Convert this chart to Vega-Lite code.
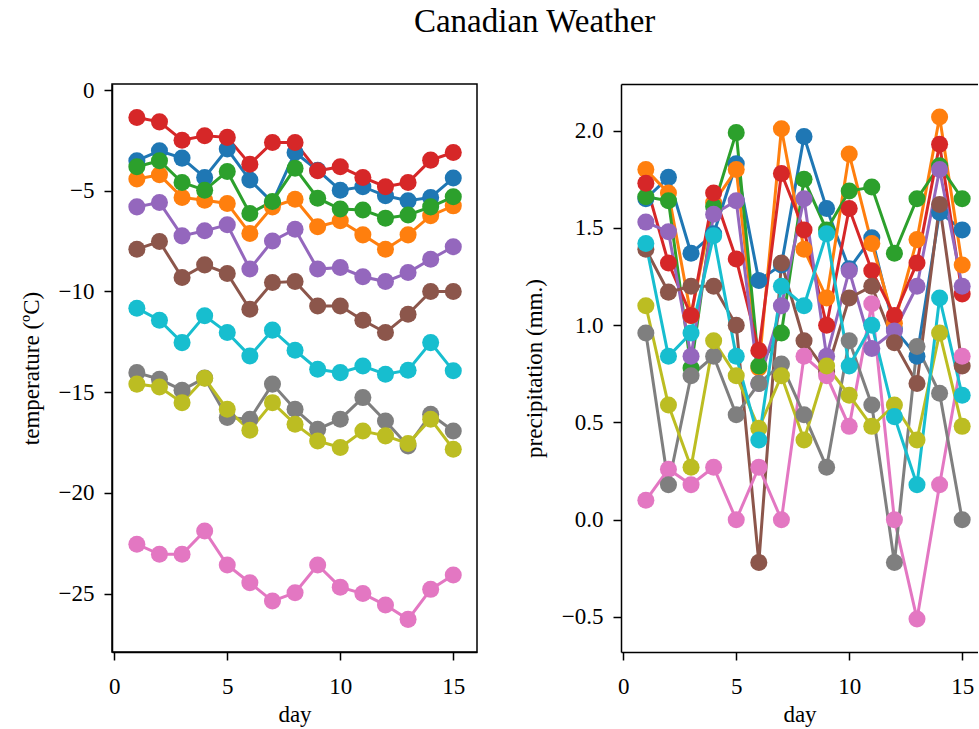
{
"$schema": "https://vega.github.io/schema/vega-lite/v6.json",
"padding": {"left": 19, "top": 6, "right": 0, "bottom": 0},
"title": {"text": "Canadian Weather", "font": "Liberation Serif", "fontSize": 33, "fontWeight": "normal", "color": "black", "anchor": "middle", "offset": 39, "dx": 36},
"config": {
 "font": "Liberation Serif",
 "view": {"stroke": "black", "strokeWidth": 1.5},
 "axis": {"grid": false, "domainColor": "black", "domainWidth": 1.5, "tickColor": "black", "tickWidth": 1.5, "tickSize": 8, "labelFont": "Liberation Serif", "labelFontSize": 23, "labelColor": "black", "titleFont": "Liberation Serif", "titleFontSize": 23, "titleFontWeight": "normal", "titleColor": "black", "labelPadding": 10, "titlePadding": 15}
},
"datasets": {"w": [
{"city":"St. Johns","day":1,"temp":-3.51,"precip":1.65},{"city":"St. Johns","day":2,"temp":-3.02,"precip":1.76},{"city":"St. Johns","day":3,"temp":-3.38,"precip":1.37},{"city":"St. Johns","day":4,"temp":-4.34,"precip":1.47},{"city":"St. Johns","day":5,"temp":-2.93,"precip":1.83},{"city":"St. Johns","day":6,"temp":-4.47,"precip":1.23},{"city":"St. Johns","day":7,"temp":-5.58,"precip":1.31},{"city":"St. Johns","day":8,"temp":-3.10,"precip":1.97},{"city":"St. Johns","day":9,"temp":-3.98,"precip":1.60},{"city":"St. Johns","day":10,"temp":-4.97,"precip":1.29},{"city":"St. Johns","day":11,"temp":-4.80,"precip":1.45},{"city":"St. Johns","day":12,"temp":-5.25,"precip":0.98},{"city":"St. Johns","day":13,"temp":-5.50,"precip":0.84},{"city":"St. Johns","day":14,"temp":-5.33,"precip":1.58},{"city":"St. Johns","day":15,"temp":-4.37,"precip":1.49},
{"city":"Halifax","day":1,"temp":-4.42,"precip":1.80},{"city":"Halifax","day":2,"temp":-4.21,"precip":1.68},{"city":"Halifax","day":3,"temp":-5.33,"precip":1.05},{"city":"Halifax","day":4,"temp":-5.47,"precip":1.63},{"city":"Halifax","day":5,"temp":-5.63,"precip":1.80},{"city":"Halifax","day":6,"temp":-7.12,"precip":0.78},{"city":"Halifax","day":7,"temp":-5.80,"precip":2.01},{"city":"Halifax","day":8,"temp":-5.42,"precip":1.39},{"city":"Halifax","day":9,"temp":-6.79,"precip":1.14},{"city":"Halifax","day":10,"temp":-6.49,"precip":1.88},{"city":"Halifax","day":11,"temp":-7.19,"precip":1.42},{"city":"Halifax","day":12,"temp":-7.90,"precip":1.01},{"city":"Halifax","day":13,"temp":-7.19,"precip":1.44},{"city":"Halifax","day":14,"temp":-6.24,"precip":2.07},{"city":"Halifax","day":15,"temp":-5.75,"precip":1.31},
{"city":"Sydney","day":1,"temp":-3.81,"precip":1.66},{"city":"Sydney","day":2,"temp":-3.51,"precip":1.64},{"city":"Sydney","day":3,"temp":-4.59,"precip":0.78},{"city":"Sydney","day":4,"temp":-4.97,"precip":1.61},{"city":"Sydney","day":5,"temp":-4.04,"precip":1.99},{"city":"Sydney","day":6,"temp":-6.13,"precip":0.79},{"city":"Sydney","day":7,"temp":-5.53,"precip":0.96},{"city":"Sydney","day":8,"temp":-3.88,"precip":1.75},{"city":"Sydney","day":9,"temp":-5.37,"precip":1.49},{"city":"Sydney","day":10,"temp":-5.91,"precip":1.69},{"city":"Sydney","day":11,"temp":-5.96,"precip":1.71},{"city":"Sydney","day":12,"temp":-6.36,"precip":1.37},{"city":"Sydney","day":13,"temp":-6.20,"precip":1.65},{"city":"Sydney","day":14,"temp":-5.80,"precip":1.82},{"city":"Sydney","day":15,"temp":-5.30,"precip":1.65},
{"city":"Yarmouth","day":1,"temp":-1.36,"precip":1.73},{"city":"Yarmouth","day":2,"temp":-1.58,"precip":1.32},{"city":"Yarmouth","day":3,"temp":-2.49,"precip":1.05},{"city":"Yarmouth","day":4,"temp":-2.27,"precip":1.68},{"city":"Yarmouth","day":5,"temp":-2.35,"precip":1.34},{"city":"Yarmouth","day":6,"temp":-3.68,"precip":0.87},{"city":"Yarmouth","day":7,"temp":-2.60,"precip":1.78},{"city":"Yarmouth","day":8,"temp":-2.60,"precip":1.49},{"city":"Yarmouth","day":9,"temp":-4.01,"precip":1.00},{"city":"Yarmouth","day":10,"temp":-3.81,"precip":1.60},{"city":"Yarmouth","day":11,"temp":-4.34,"precip":1.28},{"city":"Yarmouth","day":12,"temp":-4.80,"precip":1.05},{"city":"Yarmouth","day":13,"temp":-4.59,"precip":1.32},{"city":"Yarmouth","day":14,"temp":-3.48,"precip":1.93},{"city":"Yarmouth","day":15,"temp":-3.10,"precip":1.16},
{"city":"Charlottvl","day":1,"temp":-5.80,"precip":1.53},{"city":"Charlottvl","day":2,"temp":-5.58,"precip":1.48},{"city":"Charlottvl","day":3,"temp":-7.24,"precip":0.84},{"city":"Charlottvl","day":4,"temp":-6.99,"precip":1.57},{"city":"Charlottvl","day":5,"temp":-6.69,"precip":1.64},{"city":"Charlottvl","day":6,"temp":-8.89,"precip":0.70},{"city":"Charlottvl","day":7,"temp":-7.49,"precip":1.10},{"city":"Charlottvl","day":8,"temp":-6.91,"precip":1.65},{"city":"Charlottvl","day":9,"temp":-8.89,"precip":0.84},{"city":"Charlottvl","day":10,"temp":-8.81,"precip":1.28},{"city":"Charlottvl","day":11,"temp":-9.27,"precip":0.88},{"city":"Charlottvl","day":12,"temp":-9.51,"precip":0.97},{"city":"Charlottvl","day":13,"temp":-9.06,"precip":1.20},{"city":"Charlottvl","day":14,"temp":-8.40,"precip":1.80},{"city":"Charlottvl","day":15,"temp":-7.78,"precip":1.20},
{"city":"Fredericton","day":1,"temp":-7.90,"precip":1.39},{"city":"Fredericton","day":2,"temp":-7.52,"precip":1.17},{"city":"Fredericton","day":3,"temp":-9.31,"precip":1.20},{"city":"Fredericton","day":4,"temp":-8.68,"precip":1.20},{"city":"Fredericton","day":5,"temp":-9.11,"precip":1.00},{"city":"Fredericton","day":6,"temp":-10.88,"precip":-0.22},{"city":"Fredericton","day":7,"temp":-9.56,"precip":1.32},{"city":"Fredericton","day":8,"temp":-9.51,"precip":0.92},{"city":"Fredericton","day":9,"temp":-10.72,"precip":0.76},{"city":"Fredericton","day":10,"temp":-10.72,"precip":1.14},{"city":"Fredericton","day":11,"temp":-11.43,"precip":1.20},{"city":"Fredericton","day":12,"temp":-12.04,"precip":0.91},{"city":"Fredericton","day":13,"temp":-11.13,"precip":0.70},{"city":"Fredericton","day":14,"temp":-10.00,"precip":1.62},{"city":"Fredericton","day":15,"temp":-10.00,"precip":0.79},
{"city":"Scheffervll","day":1,"temp":-22.55,"precip":0.10},{"city":"Scheffervll","day":2,"temp":-23.05,"precip":0.26},{"city":"Scheffervll","day":3,"temp":-23.05,"precip":0.18},{"city":"Scheffervll","day":4,"temp":-21.89,"precip":0.27},{"city":"Scheffervll","day":5,"temp":-23.58,"precip":0.00},{"city":"Scheffervll","day":6,"temp":-24.46,"precip":0.27},{"city":"Scheffervll","day":7,"temp":-25.37,"precip":0.00},{"city":"Scheffervll","day":8,"temp":-24.96,"precip":0.84},{"city":"Scheffervll","day":9,"temp":-23.58,"precip":0.74},{"city":"Scheffervll","day":10,"temp":-24.68,"precip":0.48},{"city":"Scheffervll","day":11,"temp":-25.00,"precip":1.11},{"city":"Scheffervll","day":12,"temp":-25.57,"precip":0.00},{"city":"Scheffervll","day":13,"temp":-26.28,"precip":-0.51},{"city":"Scheffervll","day":14,"temp":-24.79,"precip":0.18},{"city":"Scheffervll","day":15,"temp":-24.08,"precip":0.84},
{"city":"Arvida","day":1,"temp":-14.03,"precip":0.96},{"city":"Arvida","day":2,"temp":-14.36,"precip":0.18},{"city":"Arvida","day":3,"temp":-14.90,"precip":0.74},{"city":"Arvida","day":4,"temp":-14.30,"precip":0.84},{"city":"Arvida","day":5,"temp":-16.26,"precip":0.54},{"city":"Arvida","day":6,"temp":-16.34,"precip":0.70},{"city":"Arvida","day":7,"temp":-14.60,"precip":0.80},{"city":"Arvida","day":8,"temp":-15.85,"precip":0.54},{"city":"Arvida","day":9,"temp":-16.84,"precip":0.27},{"city":"Arvida","day":10,"temp":-16.34,"precip":0.92},{"city":"Arvida","day":11,"temp":-15.27,"precip":0.59},{"city":"Arvida","day":12,"temp":-16.43,"precip":-0.22},{"city":"Arvida","day":13,"temp":-17.67,"precip":0.89},{"city":"Arvida","day":14,"temp":-16.10,"precip":0.65},{"city":"Arvida","day":15,"temp":-16.93,"precip":0.00},
{"city":"Bagottville","day":1,"temp":-14.60,"precip":1.10},{"city":"Bagottville","day":2,"temp":-14.74,"precip":0.59},{"city":"Bagottville","day":3,"temp":-15.52,"precip":0.27},{"city":"Bagottville","day":4,"temp":-14.31,"precip":0.92},{"city":"Bagottville","day":5,"temp":-15.85,"precip":0.74},{"city":"Bagottville","day":6,"temp":-16.89,"precip":0.47},{"city":"Bagottville","day":7,"temp":-15.52,"precip":0.74},{"city":"Bagottville","day":8,"temp":-16.59,"precip":0.41},{"city":"Bagottville","day":9,"temp":-17.42,"precip":0.79},{"city":"Bagottville","day":10,"temp":-17.75,"precip":0.64},{"city":"Bagottville","day":11,"temp":-16.93,"precip":0.48},{"city":"Bagottville","day":12,"temp":-17.17,"precip":0.59},{"city":"Bagottville","day":13,"temp":-17.55,"precip":0.41},{"city":"Bagottville","day":14,"temp":-16.34,"precip":0.96},{"city":"Bagottville","day":15,"temp":-17.83,"precip":0.48},
{"city":"Quebec","day":1,"temp":-10.83,"precip":1.42},{"city":"Quebec","day":2,"temp":-11.43,"precip":0.84},{"city":"Quebec","day":3,"temp":-12.54,"precip":0.96},{"city":"Quebec","day":4,"temp":-11.21,"precip":1.46},{"city":"Quebec","day":5,"temp":-12.04,"precip":0.84},{"city":"Quebec","day":6,"temp":-13.20,"precip":0.41},{"city":"Quebec","day":7,"temp":-11.92,"precip":1.20},{"city":"Quebec","day":8,"temp":-12.92,"precip":1.10},{"city":"Quebec","day":9,"temp":-13.86,"precip":1.47},{"city":"Quebec","day":10,"temp":-14.03,"precip":0.79},{"city":"Quebec","day":11,"temp":-13.70,"precip":1.00},{"city":"Quebec","day":12,"temp":-14.11,"precip":0.53},{"city":"Quebec","day":13,"temp":-13.91,"precip":0.18},{"city":"Quebec","day":14,"temp":-12.54,"precip":1.14},{"city":"Quebec","day":15,"temp":-13.94,"precip":0.64}
]},
"data": {"name": "w"},
"bounds": "flush",
"spacing": 144,
"hconcat": [
 {
  "width": 365, "height": 568,
  "encoding": {
   "x": {"field": "day", "type": "quantitative", "scale": {"domain": [-0.1, 16.05], "nice": false, "zero": false}, "axis": {"values": [0, 5, 10, 15], "title": "day", "labelPadding": 15, "titlePadding": 5}},
   "y": {"field": "temp", "type": "quantitative", "scale": {"domain": [-27.9, 0.3], "nice": false, "zero": false}, "axis": {"values": [0, -5, -10, -15, -20, -25], "title": "temperature (ºC)"}},
   "color": {"field": "city", "type": "nominal", "legend": null, "scale": {"domain": ["St. Johns", "Halifax", "Sydney", "Yarmouth", "Charlottvl", "Fredericton", "Scheffervll", "Arvida", "Bagottville", "Quebec"], "range": ["#1f77b4", "#ff7f0e", "#2ca02c", "#d62728", "#9467bd", "#8c564b", "#e377c2", "#7f7f7f", "#bcbd22", "#17becf"]}}
  },
  "layer": [
   {"mark": {"type": "line", "strokeWidth": 3}},
   {"mark": {"type": "point", "filled": true, "size": 290, "opacity": 1}}
  ]
 },
 {
  "width": 357, "height": 568,
  "view": {"stroke": null},
  "encoding": {
   "y": {"field": "precip", "type": "quantitative", "scale": {"domain": [-0.68, 2.24], "nice": false, "zero": false}, "axis": {"values": [-0.5, 0, 0.5, 1, 1.5, 2], "format": ".1f", "title": "precipitation (mm.)"}},
   "color": {"field": "city", "type": "nominal", "legend": null, "scale": {"domain": ["St. Johns", "Halifax", "Sydney", "Yarmouth", "Charlottvl", "Fredericton", "Scheffervll", "Arvida", "Bagottville", "Quebec"], "range": ["#1f77b4", "#ff7f0e", "#2ca02c", "#d62728", "#9467bd", "#8c564b", "#e377c2", "#7f7f7f", "#bcbd22", "#17becf"]}}
  },
  "layer": [
   {"mark": {"type": "line", "strokeWidth": 3},
    "encoding": {"x": {"field": "day", "type": "quantitative", "scale": {"domain": [-0.1, 15.7], "nice": false, "zero": false}, "axis": {"orient": "bottom", "values": [0, 5, 10, 15], "title": "day", "labelPadding": 15, "titlePadding": 5}}}},
   {"mark": {"type": "point", "filled": true, "size": 290, "opacity": 1},
    "encoding": {"x": {"field": "day", "type": "quantitative", "axis": {"orient": "top", "labels": false, "ticks": false, "title": null, "domain": true}}}}
  ]
 }
]
}
